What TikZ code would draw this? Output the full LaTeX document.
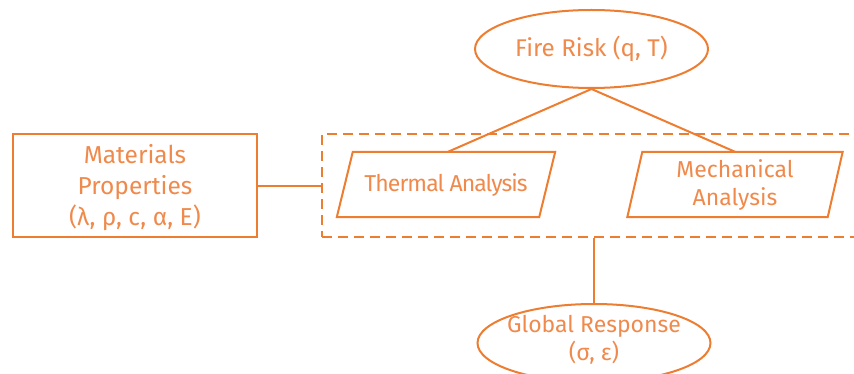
\documentclass[tikz,border=0pt]{standalone}
\usepackage{fontspec}
\setmainfont{Fira Sans}
\usetikzlibrary{shapes.geometric}
\definecolor{orline}{HTML}{ED7D31}
\definecolor{ortext}{HTML}{EF8A4C}
\begin{document}
\begin{tikzpicture}[x=1pt,y=-1pt,
  conn/.style={draw=orline, line width=2pt},
  txt/.style={text=ortext, font=\fontsize{23}{28}\selectfont, align=center},
  oval/.style={ellipse, draw=orline, line width=2pt, minimum width=233pt, minimum height=78pt, inner sep=0pt},
  matbox/.style={rectangle, draw=orline, line width=2pt, minimum width=244pt, minimum height=103pt, inner sep=0pt},
  slantbox/.style={rectangle, minimum height=65pt, inner sep=0pt},
  groupbox/.style={rectangle, draw=orline, line width=2pt, dash pattern=on 10pt off 6pt, minimum width=548pt, minimum height=103pt, inner sep=0pt}
]
\useasboundingbox (0,0) rectangle (854,374);

% Fire risk
\node[oval, txt, font=\fontsize{24.2}{28}\selectfont] (fire) at (591.5,49) {Fire Risk (q, T)};

% Materials
\node[matbox, txt] (mat) at (135,186) {};
\node[txt, font=\fontsize{24.5}{31}\selectfont] (mattxt) at (135,188) {Materials\\Properties\\(λ, ρ, c, α, E)};

% Group
\node[groupbox] (group) at (596,186) {};

% Thermal
\node[slantbox, minimum width=202pt, txt, font=\fontsize{23}{28}\selectfont\addfontfeatures{LetterSpace=-4}] (thermal) at (446,184.5) {Thermal Analysis};
\draw[conn, line join=miter] ([xshift=-8pt]thermal.south west) -- ([xshift=8pt]thermal.north west) -- ([xshift=8pt]thermal.north east) -- ([xshift=-8pt]thermal.south east) -- cycle;

% Mechanical
\node[slantbox, minimum width=200pt, txt] (mech) at (735,184.5) {Mechanical\\Analysis};
\draw[conn, line join=miter] ([xshift=-7.5pt]mech.south west) -- ([xshift=7.5pt]mech.north west) -- ([xshift=7.5pt]mech.north east) -- ([xshift=-7.5pt]mech.south east) -- cycle;

% Global response
\node[oval] (global) at (594,343) {};
\node[txt] (globaltxt) at (594,340) {Global Response\\(σ, ε)};

% Connectors
\draw[conn] (fire.south) -- ([xshift=2pt]thermal.north);
\draw[conn] (fire.south) -- (mech.north);
\draw[conn] (mat.east) -- (group.west);
\draw[conn] (global.north) -- (global.north |- group.south);
\end{tikzpicture}
\end{document}
